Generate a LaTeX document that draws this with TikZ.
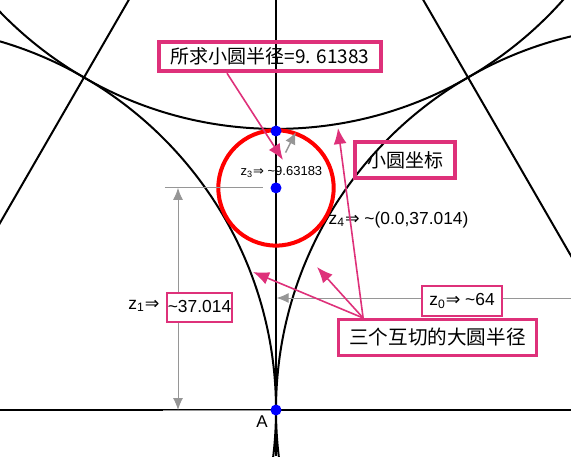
\documentclass[tikz,border=0pt]{standalone}
\usepackage{fontspec}
\setmainfont{Liberation Sans}
\newfontfamily\cjk{Noto Sans CJK SC}
\newfontfamily\symb{DejaVu Sans}
\usetikzlibrary{calc,arrows.meta}
\definecolor{tagpink}{RGB}{222,49,122}
\definecolor{dimgray}{RGB}{150,150,150}
\newcommand{\impl}{{\symb ⇒}}
\newcommand{\zsub}[1]{z\textsubscript{#1}}

\begin{document}
\begin{tikzpicture}[
  x=3pt, y=3pt,
  bigcircle/.style={%
    draw=black,%
    line width=1pt%
  },
  axisline/.style={%
    draw=black,%
    line width=1.2pt%
  },
  dotnode/.style={%
    circle,%
    fill=blue,%
    inner sep=0pt,%
    minimum size=5.5pt%
  },
  tagbox/.style={%
    rectangle,%
    draw=tagpink,%
    line width=2.2pt,%
    inner sep=0pt,%
    font=\cjk\fontsize{9.5}{11}\selectfont%
  },
  valuebox/.style={%
    rectangle,%
    draw=tagpink,%
    fill=white,%
    line width=1pt,%
    inner sep=0pt,%
    font=\fontsize{8.7}{10}\selectfont%
  },
  tagarrow/.style={%
    draw=tagpink,%
    line width=0.8pt,%
    -{Latex[length=8pt,width=6.5pt]}%
  },
  dimarrow/.style={%
    draw=dimgray,%
    line width=0.5pt,%
    -{Latex[length=6pt,width=5pt]}%
  }
]
  \useasboundingbox (-46,-7.667) rectangle (49.167,68.333);

  % centres of the three big circles, R = 64
  \coordinate (cl) at (-64,0);
  \coordinate (cr) at (64,0);
  \coordinate (ct) at (0,110.851);
  \coordinate (cs) at (0,37.014);

  \begin{scope}
    \clip (-46,-7.667) rectangle (49.167,68.333);
    \draw[bigcircle] (cl) circle (64);
    \draw[bigcircle] (cr) circle (64);
    \draw[bigcircle] (ct) circle (64);
    \draw[bigcircle] ($(cl)!-1!(ct)$) -- ($(ct)!-1!(cl)$);
    \draw[bigcircle] ($(cr)!-1!(ct)$) -- ($(ct)!-1!(cr)$);
    \draw[axisline] (0,-7.667) -- (0,68.333);
    \draw[axisline] (-46,0) -- (49.167,0);
  \end{scope}

  \draw[red, line width=2pt] (cs) circle (9.61383);

  % dimension of the small circle centre
  \draw[dimgray, line width=0.5pt] (-18.5,37.014) -- (-2.167,37.014);
  \draw[dimgray, line width=0.5pt] (-18.8,0) -- (0,0);
  \draw[dimarrow, {Latex[length=6pt,width=5pt]}-{Latex[length=6pt,width=5pt]}]
    (-16.333,37.014) -- (-16.333,0);

  % radius of the big circles
  \coordinate (zright) at (49.167,18.667);
  \coordinate (zaxis) at (0.1,18.667);
  \draw[dimarrow] (zright) -- (zaxis);

  \coordinate (rfoot) at (1.6,42.9);
  \coordinate (rtip) at (3.3,46.3);
  \draw[dimarrow, line width=0.7pt, -{Latex[length=6pt,width=5.5pt]}] (rfoot) -- (rtip);

  \node[dotnode] (ptop) at (0,46.5) {};
  \node[dotnode] (pcentre) at (cs) {};
  \node[dotnode] (pA) at (0,0) {};
  \node[font=\fontsize{8.5}{10}\selectfont] (lblA) at (-2.333,-1.9) {A};

  \node[font=\fontsize{6.5}{8}\selectfont] (z3) at (0.9,39.667)
    {\zsub{3}\impl\ \textasciitilde9.63183};
  \node[font=\fontsize{8.7}{10}\selectfont] (z4) at (20.417,31.667)
    {\zsub{4}\impl\ \textasciitilde(0.0,37.014)};
  \node[font=\fontsize{8.7}{10}\selectfont] (z1) at (-22,17.333)
    {\zsub{1}\impl};
  \node[valuebox, minimum width=32pt, minimum height=14.5pt] (z1box) at (-12.75,17.167)
    {\textasciitilde37.014};
  \node[valuebox, minimum width=40pt, minimum height=15pt] (z0box) at (31,18.167)
    {\zsub{0}\impl\ \textasciitilde64};

  \node[tagbox, minimum width=111pt, minimum height=14.5pt] (radiusbox) at (-1,58.917)
    {所求小圆半径=9. 61383};
  \node[tagbox, minimum width=50pt, minimum height=18pt] (coordbox) at (21.5,41.667)
    {小圆坐标};
  \node[tagbox, fill=white, line width=1.5pt, minimum width=99pt, minimum height=18pt,
    font=\cjk\fontsize{9.8}{11}\selectfont] (bigbox) at (26.917,12.083)
    {三个互切的大圆半径};

  \coordinate (tipsmall) at (1.167,41.667);
  \coordinate (tiptop) at (10.333,47);
  \coordinate (tipright) at (6.833,23.833);
  \coordinate (tipleft) at (-3.833,23);
  \coordinate (bigfoot) at ($(bigbox.north west)!0.13!(bigbox.north east)$);

  \draw[tagarrow] ($(radiusbox.south west)!0.31!(radiusbox.south east)$) -- (tipsmall);
  \draw[tagarrow] (bigfoot) -- (tiptop);
  \draw[tagarrow] (bigfoot) -- (tipright);
  \draw[tagarrow] (bigfoot) -- (tipleft);

\end{tikzpicture}
\end{document}
